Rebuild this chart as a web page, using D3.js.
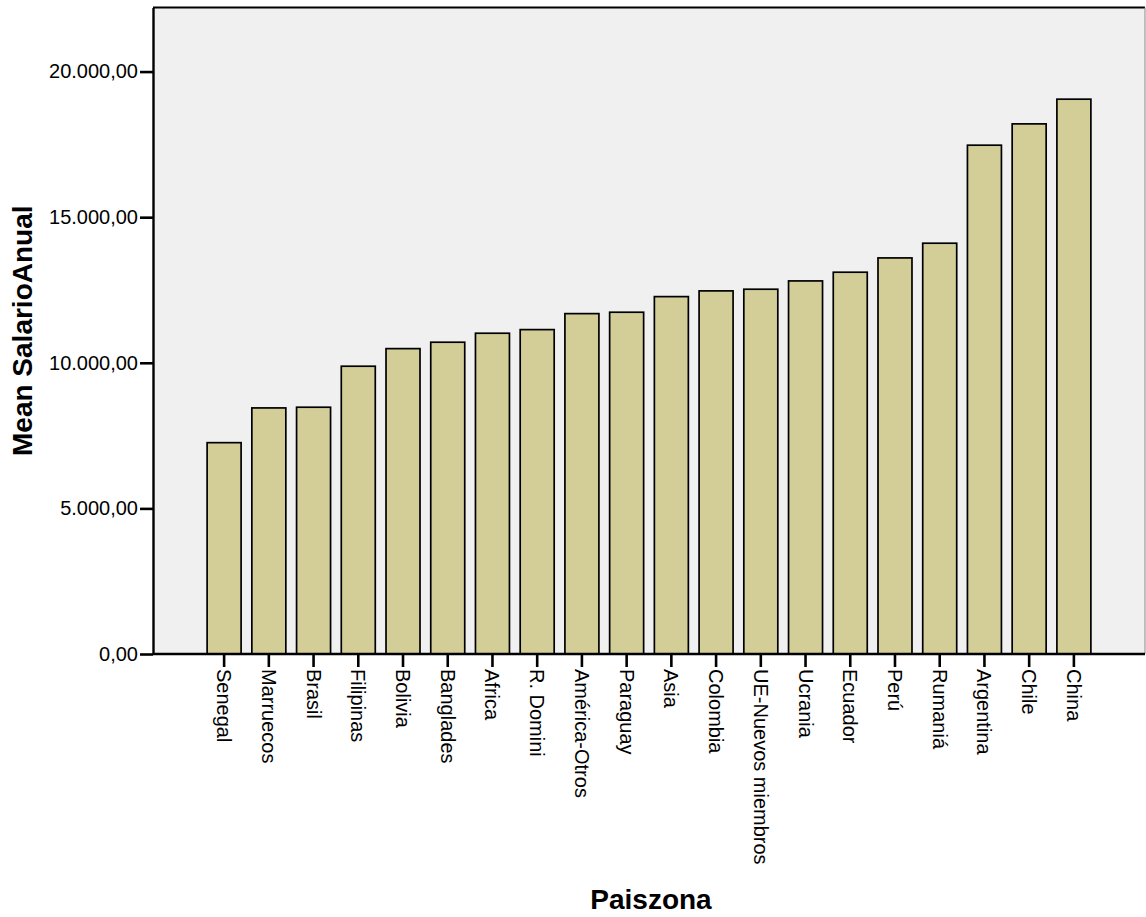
<!DOCTYPE html>
<html>
<head>
<meta charset="utf-8">
<script src="https://cdn.jsdelivr.net/npm/d3@7"></script>
<style>
  body { margin: 0; background: #fff; }
  text { font-family: "Liberation Sans", Arial, sans-serif; }
</style>
</head>
<body>
<svg width="1146" height="917"></svg>
<script>
// Data
const paises = ["Senegal", "Marruecos", "Brasil", "Filipinas", "Bolivia", "Banglades", "Africa",
    "R. Domini", "América-Otros", "Paraguay", "Asia", "Colombia", "UE-Nuevos miembros", "Ucrania",
    "Ecuador", "Perú", "Rumaniá", "Argentina", "Chile", "China"];
const salarios = [7257, 8450, 8474, 9882, 10486, 10706, 11015, 11139, 11688, 11736, 12272, 12469,
    12526, 12811, 13110, 13601, 14106, 17472, 18204, 19052];
const yTicks = [0, 5000, 10000, 15000, 20000];

const svg = d3.select("svg");

// Plot area
const plotLeft = 153, plotRight = 1145, plotTop = 7.5, plotBottom = 654;

const x = d3.scaleBand()
    .domain(paises)
    .range([plotLeft, plotRight])
    .paddingInner(0.24)
    .paddingOuter(1.21);

const y = d3.scaleLinear()
    .domain([0, 22200])
    .range([plotBottom, plotTop]);

// Spanish number format: 20.000,00
const fmt = d3.formatLocale({ decimal: ",", thousands: ".", grouping: [3], currency: ["", "€"] }).format(",.2f");

// background
svg.append("rect")
    .attr("x", plotLeft).attr("y", plotTop)
    .attr("width", plotRight - plotLeft).attr("height", plotBottom - plotTop)
    .attr("fill", "#f0f0f0");

// bars
svg.selectAll("rect.bar")
    .data(paises)
    .enter()
    .append("rect")
    .attr("class", "bar")
    .attr("x", d => x(d))
    .attr("y", (d, i) => y(salarios[i]))
    .attr("width", x.bandwidth())
    .attr("height", (d, i) => y(0) - y(salarios[i]))
    .attr("fill", "#d3ce98")
    .attr("stroke", "#000")
    .attr("stroke-width", 1.7);

// frame: top black, right grey
svg.append("line")
    .attr("x1", plotLeft).attr("x2", plotRight).attr("y1", plotTop).attr("y2", plotTop)
    .attr("stroke", "#000").attr("stroke-width", 2.2);
svg.append("line")
    .attr("x1", plotRight).attr("x2", plotRight).attr("y1", plotTop).attr("y2", plotBottom)
    .attr("stroke", "#888").attr("stroke-width", 1);

// y axis
const yAxis = svg.append("g")
    .attr("transform", `translate(${plotLeft},0)`)
    .call(d3.axisLeft(y).tickValues(yTicks).tickFormat(fmt).tickSize(13).tickSizeOuter(0));
yAxis.select(".domain").attr("stroke", "#000").attr("stroke-width", 2.4);
yAxis.selectAll(".tick line").attr("stroke", "#000").attr("stroke-width", 2.6);
yAxis.selectAll(".tick text")
    .attr("x", -15)
    .style("font-size", "20px")
    .style("font-family", "Liberation Sans, Arial, sans-serif")
    .attr("fill", "#000");

// x axis
const xAxis = svg.append("g")
    .attr("transform", `translate(0,${plotBottom})`)
    .call(d3.axisBottom(x).tickSize(13).tickSizeOuter(0));
xAxis.select(".domain").attr("d", `M${plotLeft},0H${plotRight}`).attr("stroke", "#000").attr("stroke-width", 2.4);
xAxis.selectAll(".tick line").attr("stroke", "#000").attr("stroke-width", 2.6);
xAxis.selectAll(".tick text")
    .attr("x", 0).attr("y", 0)
    .attr("transform", "translate(0,15) rotate(90)")
    .attr("dy", "0.35em")
    .style("text-anchor", "start")
    .style("font-size", "20px")
    .style("font-family", "Liberation Sans, Arial, sans-serif")
    .attr("fill", "#000");

// axis titles
svg.append("text")
    .attr("transform", `translate(32,${(plotTop + plotBottom) / 2}) rotate(-90)`)
    .attr("text-anchor", "middle")
    .style("font-size", "28px")
    .style("font-weight", "bold")
    .text("Mean SalarioAnual");

svg.append("text")
    .attr("x", 651)
    .attr("y", 909)
    .attr("text-anchor", "middle")
    .style("font-size", "28px")
    .style("font-weight", "bold")
    .text("Paiszona");
</script>
</body>
</html>
